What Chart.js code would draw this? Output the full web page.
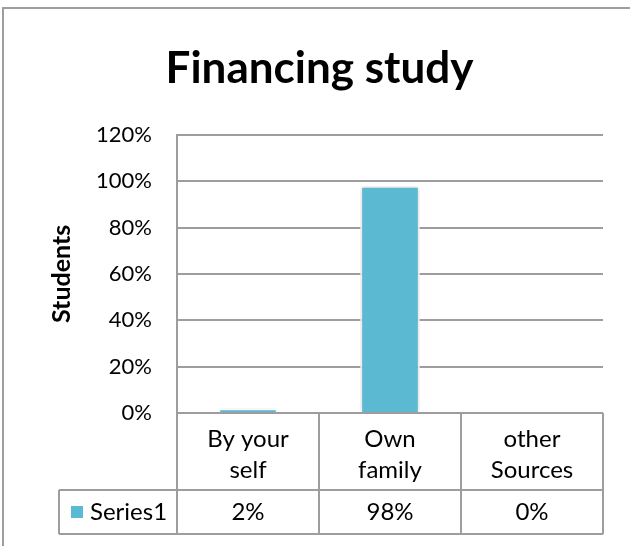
<!DOCTYPE html>
<html>
<head>
<meta charset="utf-8">
<script src="https://cdn.jsdelivr.net/npm/chart.js@4.4.0/dist/chart.umd.min.js"></script>
<style>
  body { margin: 0; background: #fff; }
  canvas { display: block; }
</style>
</head>
<body>
<canvas id="myChart" width="630" height="546"></canvas>
<script>
// Categories (two lines each, as in the data table)
const categories = [['By your', 'self'], ['Own', 'family'], ['other', 'Sources']];
const seriesName = 'Series1';
// Share of students, percent
const seriesValues = [2, 98, 0];
const yTickMax = 120;
const yTickStep = 20;

const gridGrey = '#9d9d9d';
const barBlue = '#5bb9d1';
const fontName = 'Lato, "Noto Sans", sans-serif';

// outer frame of the chart object
const frame = {
    id: 'frame',
    beforeDraw(chart) {
        const ctx = chart.ctx;
        ctx.save();
        ctx.strokeStyle = gridGrey;
        ctx.lineWidth = 2;
        ctx.strokeRect(3, 8, chart.width + 20, chart.height + 20);
        ctx.restore();
    },
};

// soft shadow behind the bars
const barShadow = {
    id: 'barShadow',
    beforeDatasetsDraw(chart) {
        chart.ctx.save();
        chart.ctx.shadowColor = 'rgba(0,0,0,0.18)';
        chart.ctx.shadowBlur = 6;
    },
    afterDatasetsDraw(chart) {
        chart.ctx.restore();
    },
};

// data table under the plot area
const dataTable = {
    id: 'dataTable',
    afterDraw(chart) {
        const ctx = chart.ctx;
        const area = chart.chartArea;
        const xScale = chart.scales.x;
        const rowTop = area.bottom;
        const rowMid = rowTop + 77;
        const rowEnd = rowMid + 44;
        const legendLeft = area.left - 118;
        const colW = (area.right - area.left) / categories.length;

        ctx.save();
        ctx.strokeStyle = gridGrey;
        ctx.lineWidth = 2;
        ctx.beginPath();
        ctx.moveTo(area.left, rowTop); ctx.lineTo(area.right, rowTop);
        ctx.moveTo(legendLeft, rowMid); ctx.lineTo(area.right, rowMid);
        ctx.moveTo(legendLeft, rowEnd); ctx.lineTo(area.right, rowEnd);
        ctx.moveTo(legendLeft, rowMid); ctx.lineTo(legendLeft, rowEnd);
        for (let i = 0; i <= categories.length; i++) {
            const cx = area.left + i * colW;
            ctx.moveTo(cx, rowTop); ctx.lineTo(cx, rowEnd);
        }
        ctx.stroke();

        ctx.fillStyle = '#000';
        ctx.font = '24px ' + fontName;
        ctx.textAlign = 'center';
        ctx.textBaseline = 'middle';
        categories.forEach((lines, i) => {
            const cx = xScale.getPixelForValue(i);
            lines.forEach((t, j) => ctx.fillText(t, cx, rowTop + 26 + j * 31));
            ctx.fillText(seriesValues[i] + '%', cx, (rowMid + rowEnd) / 2);
        });

        // legend key + series name
        ctx.fillStyle = barBlue;
        ctx.fillRect(legendLeft + 12, (rowMid + rowEnd) / 2 - 6, 12, 12);
        ctx.fillStyle = '#000';
        ctx.textAlign = 'left';
        ctx.fillText(seriesName, legendLeft + 31, (rowMid + rowEnd) / 2);
        ctx.restore();
    },
};

const config = {
    type: 'bar',
    data: {
        labels: categories,
        datasets: [{
            label: seriesName,
            data: seriesValues,
            backgroundColor: barBlue,
            borderColor: '#ffffff',
            borderWidth: 2,
            barPercentage: 0.42,
            categoryPercentage: 1,
        }],
    },
    options: {
        responsive: false,
        animation: false,
        layout: { padding: { left: 36, right: 27, top: 42, bottom: 12 } },
        plugins: {
            legend: { display: false },
            tooltip: { enabled: false },
            title: {
                display: true,
                text: 'Financing study',
                color: '#000',
                font: { family: fontName, size: 44, weight: 'bold' },
                padding: { top: 0, bottom: 40 },
            },
        },
        scales: {
            x: {
                grid: { display: false },
                border: { display: false },
                ticks: { display: false },
                afterFit: (s) => { s.height = 121; },
            },
            y: {
                min: 0,
                max: yTickMax,
                ticks: {
                    stepSize: yTickStep,
                    color: '#000',
                    padding: 25,
                    font: { family: fontName, size: 22 },
                    callback: (v) => v + '%',
                },
                grid: { color: gridGrey, lineWidth: 2, drawTicks: false },
                border: { color: gridGrey, width: 2 },
                title: {
                    display: true,
                    text: 'Students',
                    color: '#000',
                    padding: { top: 11, bottom: 0 },
                    font: { family: fontName, size: 25, weight: 'bold' },
                },
                afterFit: (s) => { s.width = 141; },
            },
        },
    },
    plugins: [frame, barShadow, dataTable],
};

const myChart = new Chart(document.querySelector('#myChart').getContext('2d'), config);
</script>
</body>
</html>
